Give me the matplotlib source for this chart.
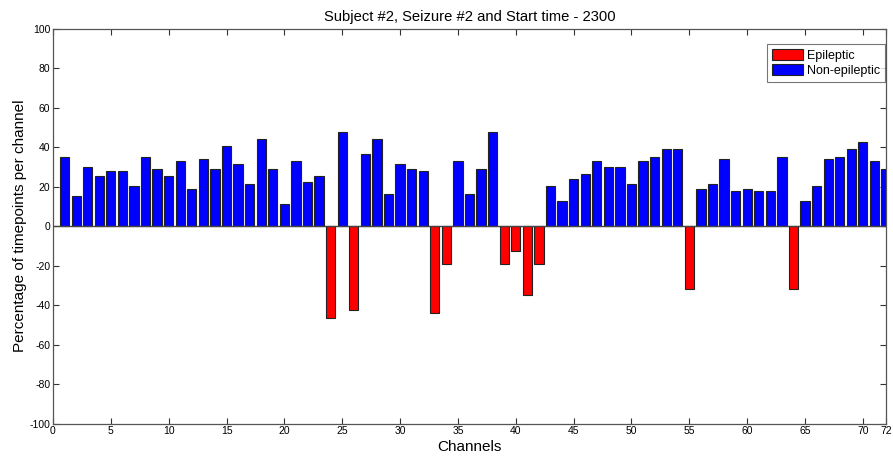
import matplotlib
matplotlib.use("Agg")
import matplotlib.pyplot as plt
import numpy as np

plt.rcParams['font.family'] = ['Liberation Sans', 'DejaVu Sans']
plt.rcParams['axes.unicode_minus'] = False

channels = list(range(1, 73))
values = [35.3, 15.1, 30.1, 25.4, 27.8, 27.8, 20.3, 35.3, 29.0, 25.4,
          33.0, 19.1, 34.1, 29.0, 40.5, 31.8, 21.4, 44.0, 29.0, 11.5,
          33.0, 22.6, 25.4, -46.7, 48.0, -42.7, 36.7, 44.0, 16.2, 31.8,
          29.0, 27.8, -43.8, -18.9, 33.0, 16.2, 29.0, 48.0, -18.9, -12.7,
          -35.1, -18.9, 20.3, 12.9, 23.9, 26.6, 33.0, 30.1, 30.1, 21.4,
          33.0, 35.3, 39.2, 39.2, -31.6, 19.1, 21.4, 34.1, 17.9, 19.1,
          17.9, 17.9, 35.3, -31.6, 12.9, 20.3, 34.1, 35.3, 39.2, 42.8,
          33.0, 29.0]
xticks = [0, 5, 10, 15, 20, 25, 30, 35, 40, 45, 50, 55, 60, 65, 70, 72]
yticks = list(range(-100, 101, 20))

ch = np.array(channels)
v = np.array(values)
epi = v < 0

fig = plt.figure(figsize=(8.93, 4.62), dpi=100)
ax = fig.add_axes([53/893, 38.5/462, 833/893, 394.5/462])

ax.bar(ch[epi], v[epi], width=0.8, color='#ff0000', edgecolor='#222222',
       linewidth=0.8, label='Epileptic', zorder=2)
ax.bar(ch[~epi], v[~epi], width=0.8, color='#0000ff', edgecolor='#222222',
       linewidth=0.8, label='Non-epileptic', zorder=2)
ax.axhline(0, color='#444444', linewidth=1.0, zorder=3)

ax.set_xlim(0, 72)
ax.set_ylim(-100, 100)
ax.set_xticks(xticks)
ax.set_yticks(yticks)
ax.tick_params(direction='in', length=4, width=0.8, labelsize=7.5,
               top=True, right=True, color='#333333', pad=2)
for s in ax.spines.values():
    s.set_color('#555555')
    s.set_linewidth(0.9)

ax.set_title('Subject #2, Seizure #2 and Start time - 2300', fontsize=10.6, pad=6)
ax.set_xlabel('Channels', fontsize=11, labelpad=3)
ax.set_ylabel('Percentage of timepoints per channel', fontsize=11, labelpad=2)

leg = ax.legend(loc='upper right', bbox_to_anchor=(0.9985, 0.962), fontsize=9,
                frameon=True, fancybox=False, edgecolor='#555555',
                handlelength=2.5, handleheight=0.95, handletextpad=0.3,
                borderpad=0.4, labelspacing=0.2, borderaxespad=0.0)
leg.get_frame().set_linewidth(0.8)

fig.savefig('out.png', dpi=100)
